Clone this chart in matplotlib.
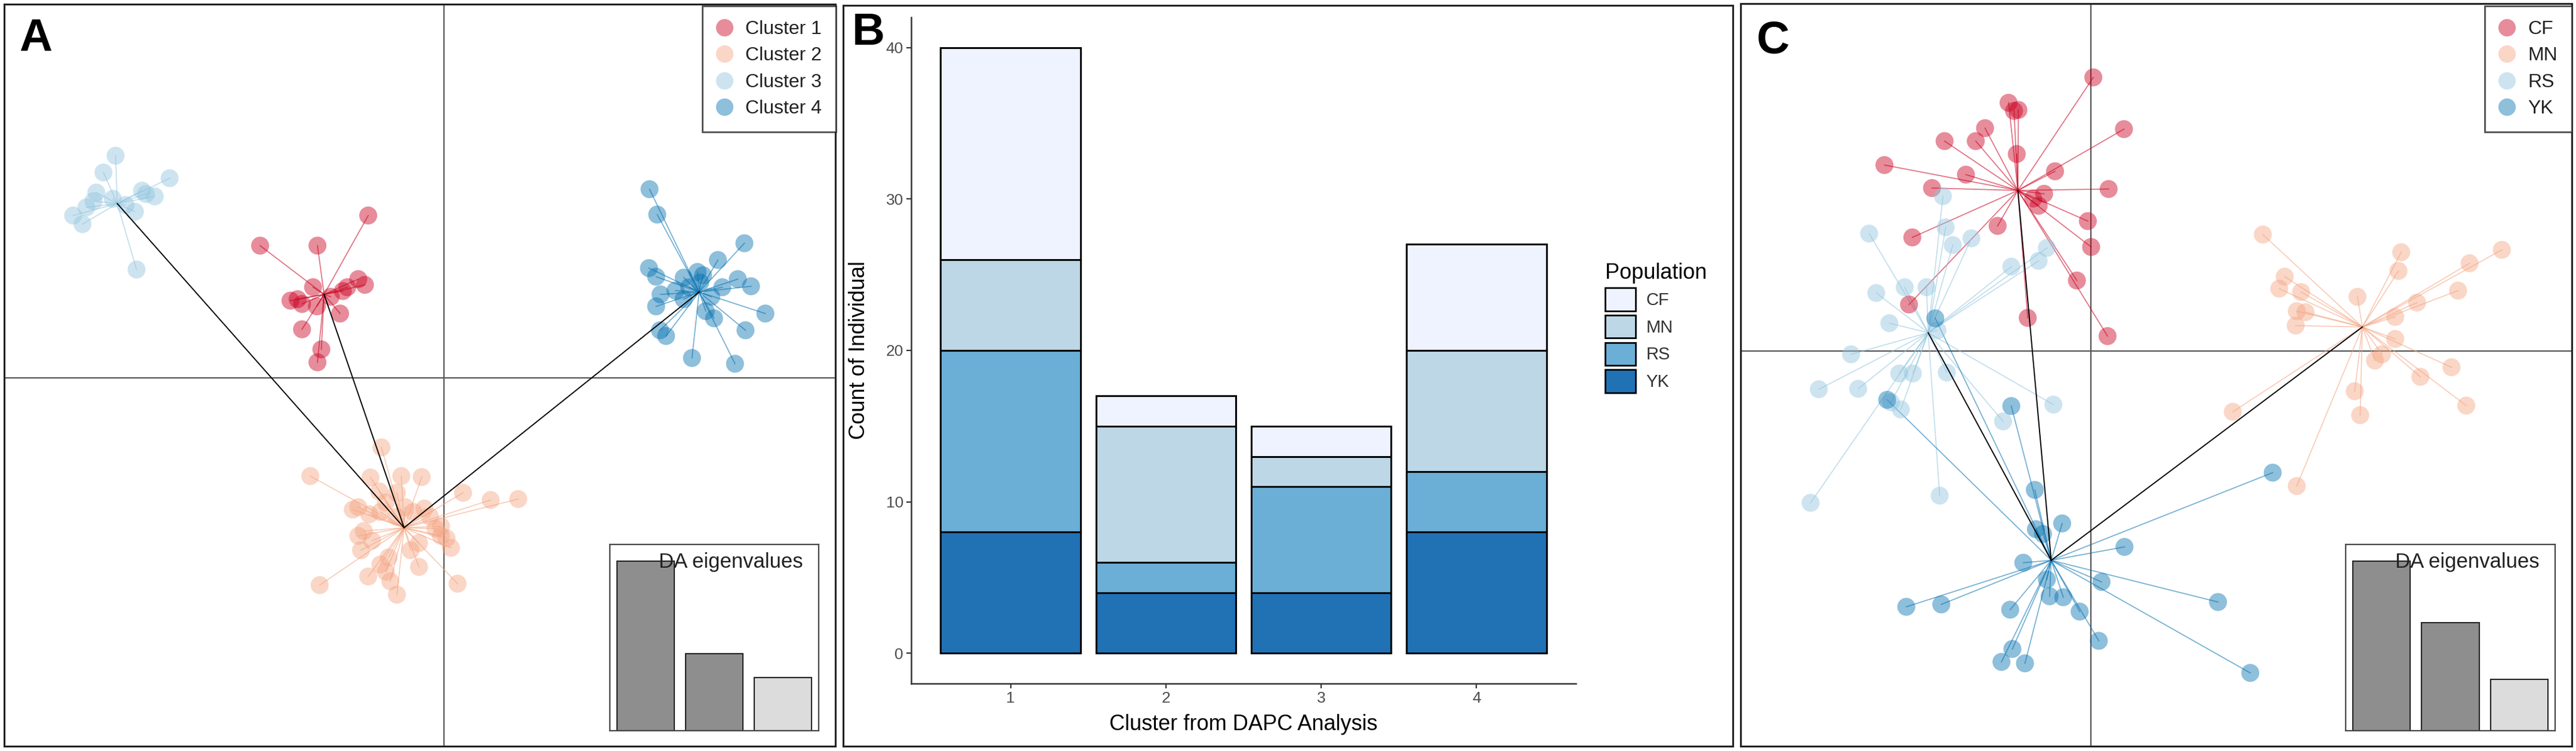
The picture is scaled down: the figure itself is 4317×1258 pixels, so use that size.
import matplotlib
matplotlib.use('Agg')
import matplotlib.pyplot as plt
from matplotlib.lines import Line2D
from matplotlib.patches import Patch
import numpy as np

plt.rcParams['font.family'] = ['Liberation Sans', 'DejaVu Sans']

W, H = 4317, 1258

# ---------------- panel A : DAPC scatter, clusters ----------------
a_labels = ['Cluster 1', 'Cluster 2', 'Cluster 3', 'Cluster 4']
a_colors = ['#CA0020', '#F4A582', '#92C5DE', '#0571B0']

a1_ld1 = [-1.37, -3.33, -2.29, -2.37, -2.78, -2.57, -1.83, -1.55, -1.43, -1.88, -2.57, -2.22, -2.29, -2.65, -1.75, -2.30, -2.05]
a1_ld2 = [3.40, 2.77, 2.77, 1.90, 1.62, 1.55, 1.82, 2.07, 1.95, 1.35, 1.02, 0.60, 0.33, 1.65, 1.90, 1.50, 1.70]

a2_ld1 = [-1.13, -2.42, -1.33, -0.77, -0.40, 0.35, 0.85, 1.35, -1.17, -1.55, -0.35, -1.05, -0.85, -1.45, -0.05, 0.05, 0.13, -1.50, -1.15, -1.37,
          -1.05, -0.45, -2.25, -0.85, -0.97, 0.25, -1.65, -0.25, -0.55, -1.15, -1.30, -1.00, -0.05, -0.15, -0.60, -0.85, -1.35, -0.45, -0.70, -1.55]
a2_ld2 = [-1.45, -2.05, -2.08, -2.05, -2.07, -2.40, -2.55, -2.53, -2.37, -2.70, -2.73, -2.60, -2.90, -3.20, -3.10, -3.35, -3.55, -3.60, -3.90, -4.15,
          -4.05, -3.95, -4.33, -4.53, -4.25, -4.30, -2.75, -2.90, -2.80, -2.80, -3.40, -3.75, -3.30, -3.15, -3.60, -2.40, -2.85, -3.45, -2.70, -3.30]

a3_ld1 = [-5.95, -6.17, -4.97, -6.30, -5.47, -5.24, -6.00, -6.48, -6.72, -5.60, -6.55, -5.57, -5.77, -6.35, -5.40]
a3_ld2 = [4.65, 4.30, 4.18, 3.88, 3.92, 3.80, 3.75, 3.57, 3.40, 3.48, 3.22, 2.27, 3.62, 3.70, 3.85]

a4_ld1 = [3.73, 3.87, 5.45, 4.97, 3.72, 4.60, 4.70, 5.33, 3.85, 5.57, 3.93, 4.35, 3.85, 4.75, 5.83, 4.90, 5.47, 3.92, 4.03, 4.50,
          5.28, 4.20, 4.85, 4.45, 4.65, 5.05, 4.35]
a4_ld2 = [3.95, 3.42, 2.82, 2.47, 2.30, 2.22, 2.15, 2.07, 2.12, 1.92, 1.75, 1.65, 1.50, 1.40, 1.35, 1.25, 1.00, 1.00, 0.88, 0.42,
          0.30, 1.83, 1.70, 1.90, 2.00, 1.90, 2.10]

a_cent_ld1 = [-2.17, -0.72, -5.92, 4.63]
a_cent_ld2 = [1.75, -3.13, 3.65, 1.80]
a_mst = [(2, 1), (0, 1), (3, 1)]
a_eig = [283, 129, 89]

# ---------------- panel B : stacked bars ----------------
b_clusters = ['1', '2', '3', '4']
b_pops = ['YK', 'RS', 'MN', 'CF']
b_yk = [8, 4, 4, 8]
b_rs = [12, 2, 7, 4]
b_mn = [6, 9, 2, 8]
b_cf = [14, 2, 2, 7]
b_colors = {'CF': '#EFF3FF', 'MN': '#BDD7E7', 'RS': '#6BAED6', 'YK': '#2171B5'}

# ---------------- panel C : DAPC scatter, populations ----------------
c_labels = ['CF', 'MN', 'RS', 'YK']
c_colors = ['#CA0020', '#F4A582', '#92C5DE', '#0571B0']

c1_ld1 = [0.05, -1.50, -1.40, -1.32, 0.61, -1.93, -2.67, -2.10, -1.35, -3.77, -2.28, -0.65, -2.90, 0.33, -0.85, -1.05, -0.95, -0.05, -1.70, -3.26,
          0.01, -0.25, -3.32, -1.15, 0.31]
c1_ld2 = [5.71, 5.18, 5.01, 5.03, 4.63, 4.65, 4.38, 4.38, 4.11, 3.88, 3.68, 3.75, 3.40, 3.38, 3.28, 3.18, 3.03, 2.71, 2.61, 2.37,
          2.17, 1.47, 0.97, 0.69, 0.31]

c2_ld1 = [3.15, 5.68, 7.52, 5.63, 6.93, 3.55, 3.45, 3.85, 6.72, 4.88, 5.97, 5.57, 3.77, 3.93, 3.75, 5.57, 5.20, 6.60, 6.03, 4.83,
          2.60, 6.87, 4.93, 3.77, 5.33]
c2_ld2 = [2.43, 2.06, 2.11, 1.67, 1.83, 1.55, 1.30, 1.23, 1.26, 1.13, 1.01, 0.71, 0.83, 0.81, 0.53, 0.25, -0.20, -0.34, -0.54, -0.84,
          -1.27, -1.14, -1.34, -2.82, -0.07]

c3_ld1 = [-2.70, -4.05, -2.65, -2.52, -2.18, -0.80, -0.95, -1.45, -3.92, -3.40, -3.00, -3.68, -2.80, -4.38, -4.97, -4.25, -3.50, -3.25, -2.63, -3.47,
          -1.60, -0.68, -5.12, -2.76, -3.65]
c3_ld2 = [3.23, 2.45, 2.58, 2.21, 2.35, 2.15, 1.88, 1.76, 1.21, 1.33, 1.33, 0.58, 0.43, -0.07, -0.80, -0.79, -0.47, -0.47, -0.45, -1.22,
          -1.47, -1.12, -3.17, -3.02, -1.07]

c4_ld1 = [-2.84, -3.72, -1.45, 3.33, -1.02, -0.52, -1.00, -0.87, 0.62, -1.23, -0.80, 0.20, -3.37, -2.73, -1.47, -0.75, -0.50, -0.20, 2.33, 0.15,
          -1.43, -1.63, -1.20, 2.92]
c4_ld2 = [0.68, -1.02, -1.15, -2.54, -2.90, -3.60, -3.72, -3.82, -4.09, -4.42, -4.77, -4.82, -5.34, -5.29, -5.40, -5.12, -5.14, -5.44, -5.24, -6.05,
          -6.22, -6.49, -6.52, -6.72]

c_cent_ld1 = [-1.33, 4.97, -2.97, -0.72]
c_cent_ld2 = [3.35, 0.50, 0.38, -4.37]
c_mst = [(0, 3), (2, 3), (1, 3)]
c_eig = [283, 181, 86]


def px_rect(x0, y0, x1, y1):
    return [x0 / W, 1 - y1 / H, (x1 - x0) / W, (y1 - y0) / H]


def dapc_panel(rect, xlim, ylim, xs, ys, cx, cy, colors, labels, mst, eig, inset_rect, leg_anchor):
    ax = fig.add_axes(px_rect(*rect))
    ax.set_xlim(xlim)
    ax.set_ylim(ylim)
    ax.set_xticks([])
    ax.set_yticks([])
    for s in ax.spines.values():
        s.set_linewidth(2.2)
        s.set_color('#222222')
    ax.axvline(0, color='#555555', lw=1.6, zorder=1)
    ax.axhline(0, color='#555555', lw=1.6, zorder=1)
    for k in range(len(xs)):
        for px, py in zip(xs[k], ys[k]):
            ax.plot([cx[k], px], [cy[k], py], color=colors[k], alpha=0.55, lw=1.3, zorder=2)
    for k in range(len(xs)):
        ax.scatter(xs[k], ys[k], s=470, color=colors[k], alpha=0.45, edgecolors='none', zorder=3)
    for i, j in mst:
        ax.plot([cx[i], cx[j]], [cy[i], cy[j]], color='black', lw=1.4, zorder=4)

    handles = [Line2D([], [], marker='o', linestyle='none', markersize=21,
                      markerfacecolor=c, markeredgecolor='none', alpha=0.45) for c in colors]
    leg = ax.legend(handles, labels, loc='upper right', bbox_to_anchor=leg_anchor,
                    bbox_transform=fig.transFigure, fontsize=23, frameon=True, fancybox=False,
                    borderaxespad=0, borderpad=0.75, labelspacing=0.45, handlelength=0.8,
                    handletextpad=0.7)
    leg.get_frame().set_edgecolor('#222222')
    leg.get_frame().set_linewidth(2)
    for t in leg.get_texts():
        t.set_color('#222222')

    ins = fig.add_axes(px_rect(*inset_rect))
    ins.bar([1, 2, 3], eig, width=0.835, color=['#8E8E8E', '#8E8E8E', '#DCDCDC'],
            edgecolor='#222222', linewidth=1.5)
    ins.set_xlim(0.48, 3.52)
    ins.set_ylim(0, max(eig) * 1.1)
    ins.set_xticks([])
    ins.set_yticks([])
    for s in ins.spines.values():
        s.set_linewidth(1.6)
        s.set_color('#444444')
    ins.text(0.926, 0.905, 'DA eigenvalues', transform=ins.transAxes, ha='right', va='center',
             fontsize=25, color='#222222')
    return ax


fig = plt.figure(figsize=(W / 100, H / 100), dpi=100)

# panel A
dapc_panel((7, 7, 1400, 1250), (-7.97, 7.10), (-7.70, 7.82),
           [a1_ld1, a2_ld1, a3_ld1, a4_ld1], [a1_ld2, a2_ld2, a3_ld2, a4_ld2],
           a_cent_ld1, a_cent_ld2, a_colors, a_labels, a_mst, a_eig,
           (1022, 912, 1372, 1224), (1401 / W, 1 - 10 / H))

# panel B
frame_b = fig.add_axes(px_rect(1413, 9, 2904, 1250))
frame_b.set_xticks([])
frame_b.set_yticks([])
for s in frame_b.spines.values():
    s.set_linewidth(2.2)
    s.set_color('#222222')

ax_b = fig.add_axes(px_rect(1527, 29, 2641, 1145))
ax_b.set_facecolor('none')
xpos = np.arange(1, len(b_clusters) + 1)
bottom = np.zeros(len(b_clusters))
for pop, vals in zip(b_pops, [b_yk, b_rs, b_mn, b_cf]):
    ax_b.bar(xpos, vals, bottom=bottom, width=0.9, color=b_colors[pop],
             edgecolor='black', linewidth=2.2, label=pop)
    bottom += np.array(vals)
ax_b.set_xlim(0.36, 4.64)
ax_b.set_ylim(-2, 42)
ax_b.set_xticks(xpos)
ax_b.set_xticklabels(b_clusters)
ax_b.set_yticks([0, 10, 20, 30, 40])
ax_b.tick_params(labelsize=19, labelcolor='#4D4D4D', color='#333333', width=1.6, length=6)
ax_b.spines['top'].set_visible(False)
ax_b.spines['right'].set_visible(False)
ax_b.spines['left'].set_linewidth(1.8)
ax_b.spines['bottom'].set_linewidth(1.8)
ax_b.spines['left'].set_color('#333333')
ax_b.spines['bottom'].set_color('#333333')
ax_b.set_ylabel('Count of Individual', fontsize=26, labelpad=20)
ax_b.set_xlabel('Cluster from DAPC Analysis', fontsize=26, labelpad=10)

leg_handles = [Patch(facecolor=b_colors[p], edgecolor='black', linewidth=2) for p in ['CF', 'MN', 'RS', 'YK']]
leg_b = ax_b.legend(leg_handles, ['CF', 'MN', 'RS', 'YK'], loc='upper left',
                    bbox_to_anchor=(2690 / W, 1 - 440 / H), bbox_transform=fig.transFigure,
                    title='Population', title_fontsize=26, fontsize=21, frameon=False,
                    handlelength=1.75, handleheight=1.65, labelspacing=0.25, handletextpad=0.6,
                    borderpad=0, borderaxespad=0, alignment='left')
for t in leg_b.get_texts():
    t.set_color('#333333')

# panel C
dapc_panel((2917, 6, 4310, 1250), (-6.40, 8.80), (-8.25, 7.25),
           [c1_ld1, c2_ld1, c3_ld1, c4_ld1], [c1_ld2, c2_ld2, c3_ld2, c4_ld2],
           c_cent_ld1, c_cent_ld2, c_colors, c_labels, c_mst, c_eig,
           (3931, 912, 4282, 1224), (4310 / W, 1 - 10 / H))

# panel letters
for letter, x, y in [('A', 32, 30), ('B', 1428, 20), ('C', 2944, 34)]:
    fig.text(x / W, 1 - y / H, letter, fontsize=55, fontweight='bold', va='top', ha='left')

fig.savefig('out.png', dpi=100, facecolor='white')
